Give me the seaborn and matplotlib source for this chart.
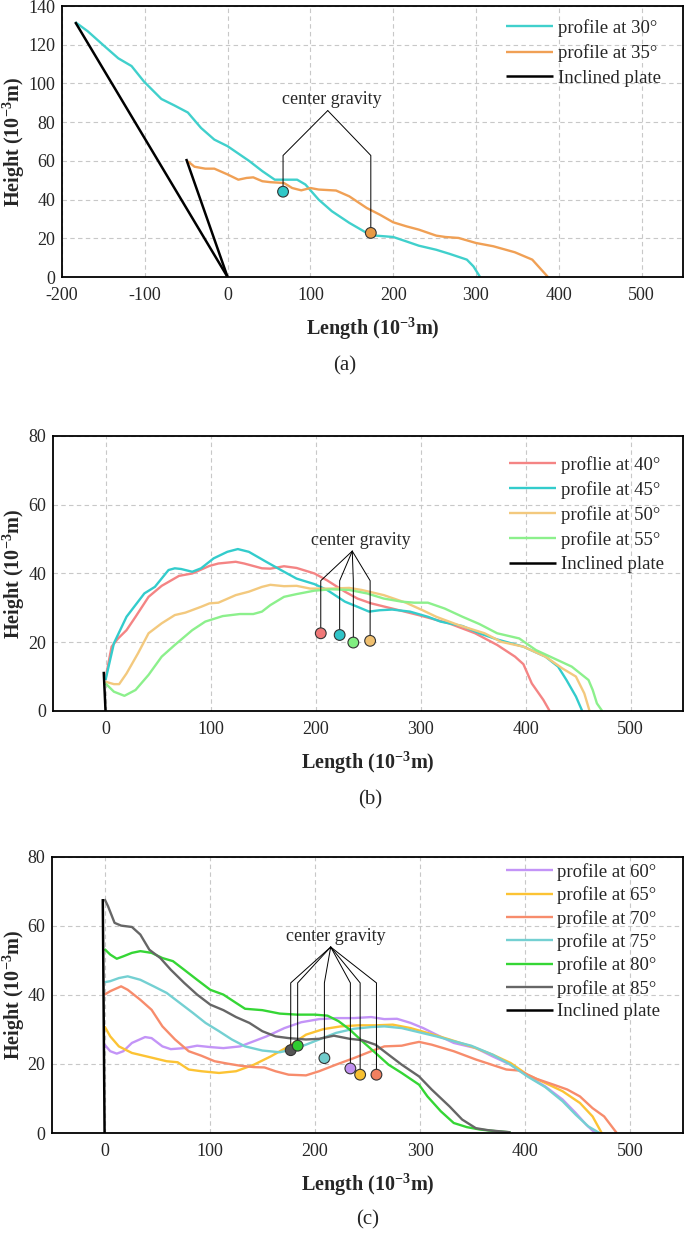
import matplotlib
import matplotlib.pyplot as plt
import numpy as np
import pandas as pd
import seaborn as sns
from matplotlib.ticker import MultipleLocator

# ---- panel (a) ----
a30_x = [-184, -169, -148, -132, -116, -101, -80, -64, -48, -32, -16, 0, 26, 42, 57, 84, 94,
         110, 126, 147, 168, 179, 200, 216, 231, 252, 268, 289, 297, 305]
a30_y = [131.7, 127, 119, 113, 109, 101, 92, 88.6, 85, 77, 71, 67.6, 60, 54.7, 50.3, 50.3, 47.8,
         40, 34, 28, 22.8, 21.4, 20.7, 18.4, 16.2, 14.1, 12, 9, 5.5, 0]
a35_x = [-48, -40, -27, -16, 0, 13, 23, 31, 42, 52, 68, 78, 89, 100, 110, 131, 147, 168, 184,
         200, 216, 231, 252, 263, 279, 300, 321, 347, 368, 379, 387]
a35_y = [59.8, 57, 56, 56, 53, 50.3, 51.2, 51.5, 49.5, 49, 48.6, 46, 44.8, 46, 45.2, 44.7, 41.7,
         35.7, 32.2, 28.3, 26.2, 24.5, 21.4, 20.7, 20.2, 17.6, 15.9, 12.8, 9, 3.8, 0]
a_plate1_x = [-184, 0]
a_plate1_y = [131.7, 0]
a_plate2_x = [-50, 0]
a_plate2_y = [61, 0]
a_cg_x = [67, 173]
a_cg_y = [44.1, 22.8]

# ---- panel (b) ----
b40_x = [0, 5.8, 12, 20, 28.6, 41, 53.5, 70, 82.6, 99, 107.5, 124, 132, 149, 157, 170, 182, 199,
         211, 228, 240, 253, 273, 298, 327, 352, 373, 390, 398, 406, 417, 423]
b40_y = [9.5, 18.7, 21.1, 23.5, 27.4, 33.2, 36.4, 39.3, 40, 42.2, 42.9, 43.4, 42.9, 41.5, 41.4,
         42.1, 41.6, 40, 38, 34.7, 32.7, 31.3, 29.8, 27.9, 25.5, 22.6, 19.2, 15.8, 13.6, 8, 3.2, 0]
b45_x = [0, 8, 20, 37, 47, 60, 66, 72, 82.6, 91, 103, 116, 126, 136.5, 153, 170, 182, 199, 211,
         228, 240, 251, 261, 273, 290, 307, 319, 340, 356, 373, 398, 419, 431, 439, 448, 454]
b45_y = [9, 19.7, 27.4, 34.2, 36.1, 41, 41.5, 41.3, 40.5, 41.5, 44.4, 46.3, 47.1, 46.3, 43.4,
         40.5, 38.5, 36.9, 35.2, 31.8, 30.3, 28.9, 29.3, 29.5, 28.9, 27.4, 26, 24.7, 22.6, 20.8,
         18.7, 15.8, 12.9, 9, 4.2, 0]
b50_x = [0, 8, 13, 20, 31, 41, 53.5, 66, 76, 91, 99, 107.5, 124, 136.5, 149, 157, 170, 182, 195,
         215, 232, 244, 265, 286, 302, 315, 336, 361, 377, 398, 419, 435, 448, 456, 461]
b50_y = [8.5, 7.8, 7.8, 10.9, 16.8, 22.6, 25.5, 27.9, 28.6, 30.3, 31.3, 31.5, 33.7, 34.7, 36.1,
         36.7, 36.3, 36.4, 35.6, 35.6, 35.8, 35.2, 33.7, 31.5, 29.3, 27.4, 25, 22.6, 20.1, 18.7,
         15.8, 12.4, 10, 5.1, 0]
b55_x = [0, 8, 18, 28.6, 41, 53.5, 66, 82.6, 95, 111.6, 128, 140.7, 149, 157, 170, 182, 199, 215,
         232, 249, 265, 282, 294, 307, 323, 340, 356, 373, 394, 410, 427, 444, 460, 464, 468, 473]
b55_y = [8, 5.6, 4.4, 6.1, 10.5, 15.8, 19.2, 23.5, 26, 27.6, 28.2, 28.2, 28.9, 30.8, 33.2, 34,
         35, 35.4, 35.2, 34.2, 32.7, 31.8, 31.5, 31.5, 29.8, 27.4, 25.3, 22.6, 21.1, 17.7, 15.3,
         12.9, 9, 6.1, 2.2, 0]
b_plate_x = [-1.7, 0]
b_plate_y = [11.4, 0]
b_cg_x = [205, 223, 236, 252]
b_cg_y = [22.6, 22.1, 19.9, 20.4]

# ---- panel (c) ----
c60_x = [0, 5.4, 11.6, 17.8, 26, 38.5, 44.7, 55, 63, 75.7, 88, 100.5, 113, 129, 142, 154, 171,
         187, 204, 220, 237, 253.5, 266, 278, 291, 303, 315.5, 332, 353, 369, 386, 402, 419,
         435.5, 448, 458, 466.5]
c60_y = [25.6, 23.7, 23, 23.7, 26.1, 27.8, 27.5, 25.1, 24.3, 24.6, 25.3, 24.9, 24.6, 25.1, 26.6,
         28, 30.4, 32.1, 33, 33.3, 33.3, 33.6, 33, 33.1, 31.9, 30.4, 28.5, 26.1, 24.6, 22.2,
         19.8, 16.6, 13.5, 9.7, 5.8, 2.4, 0]
c65_x = [0, 5.4, 13.6, 26, 42.6, 59, 69.5, 80, 92, 108.8, 125, 142, 158, 175, 191.5, 208, 224.6,
         241, 257.6, 274, 291, 307, 328, 348.6, 369, 386, 402, 419, 435.5, 452, 464, 472.7]
c65_y = [30.9, 28, 25.1, 23.2, 22, 20.8, 20.5, 18.4, 17.9, 17.4, 17.9, 19.8, 22.2, 25.1, 28.5,
         30.1, 30.9, 31.2, 31.2, 31.4, 30.4, 29, 27.1, 25.1, 22.7, 20.3, 16.9, 14.5, 12.1, 8.7,
         4.8, 0]
c70_x = [0, 5.4, 15.7, 22, 34, 44.7, 55, 67, 80, 92, 104.6, 117, 129, 142, 152, 162.5, 175,
         191.5, 204, 220, 237, 253.5, 266, 282.5, 291, 299, 311, 332, 353, 365, 382, 394, 410.7,
         427, 440, 452, 464, 475, 481, 487]
c70_y = [40.1, 41.1, 42.5, 41.5, 38.6, 35.7, 30.9, 27.1, 23.7, 22.4, 20.8, 20.1, 19.5, 19.1, 19,
         17.9, 16.9, 16.7, 17.9, 19.8, 21.7, 23.7, 25.1, 25.3, 25.9, 26.4, 25.6, 23.7, 21.3,
         20.1, 18.4, 18.1, 15.7, 14, 12.6, 10.6, 7.2, 4.8, 2.4, 0]
c75_x = [0, 5.4, 13.6, 22, 34, 46.7, 59, 71.5, 84, 96, 108.8, 121, 133.6, 150, 166.6, 179,
         191.5, 204, 220, 237, 253.5, 266, 282.5, 299, 315.5, 332, 348.6, 369, 386, 402, 419,
         435.5, 448, 460, 470.6]
c75_y = [43.7, 44, 44.9, 45.4, 44.4, 42.5, 40.6, 37.7, 34.8, 31.9, 29.5, 27.1, 25.1, 23.9, 23.4,
         24.2, 25.6, 27.1, 29, 30.2, 30.7, 30.9, 30.4, 29.2, 28, 26.6, 25.3, 22.7, 19.8, 16.4,
         13.3, 9.2, 5.3, 1.9, 0]
c80_x = [0, 5.4, 11.6, 17.8, 26, 34, 44.7, 55, 65, 75.7, 88, 100.5, 113, 125, 133.6, 150, 166.6,
         183, 199.8, 212, 222.5, 233, 245, 257.6, 270, 282.5, 299, 307, 319.7, 332, 344.5, 357,
         373, 386]
c80_y = [53.3, 51.7, 50.5, 51.2, 52.2, 52.7, 52.2, 50.7, 49.8, 47.3, 44.4, 41.5, 40.1, 37.7, 36,
         35.6, 34.6, 34.3, 34.3, 34, 32.4, 30, 26.6, 23.2, 19.8, 17.4, 14, 10.6, 6.3, 2.9, 1.7,
         1, 0.5, 0.2]
c85_x = [0, 3.3, 9.5, 15.7, 26, 34, 42.6, 53, 63, 75.7, 88, 100.5, 113, 125, 137.7, 150, 162.5,
         175, 191.5, 204, 218, 233, 245, 257.6, 270, 282.5, 299, 311, 328, 340, 353, 365, 386]
c85_y = [67.8, 65.7, 60.9, 60.1, 59.7, 57.5, 53.1, 50.7, 47.3, 43.5, 40.1, 37.2, 35.6, 33.6,
         31.9, 29.5, 28, 27.5, 27.1, 27.3, 28.2, 27.3, 26.9, 25.6, 22.7, 19.8, 16.4, 12.6, 7.7,
         3.9, 1.4, 0.8, 0.2]
c_plate_x = [-1.7, 0]
c_plate_y = [67.8, 0]
c_cg_x = [177, 183.6, 209, 233.7, 243, 258.5]
c_cg_y = [24, 25.3, 21.7, 18.7, 16.9, 16.9]

SERIF = ["Liberation Serif", "DejaVu Serif"]
FIG_W, FIG_H = 685, 1233


def _line(ax, x, y, color, label, lw=1.7):
    df = pd.DataFrame({"x": x, "y": y})
    sns.lineplot(data=df, x="x", y="y", sort=False, estimator=None,
                 color=color, lw=lw, label=label, ax=ax,
                 solid_joinstyle="round", solid_capstyle="butt")


def _draw_panel(ax, profiles, plates, cg_x, cg_y, cg_colors, text_xy, apex, kink_y,
                xlim, ylim, legend_spacing, legend_anchor):
    for x, y, color, label in profiles:
        _line(ax, x, y, color, label)
    for i, (x, y) in enumerate(plates):
        _line(ax, x, y, "black", "Inclined plate" if i == 0 else "_nolegend_", lw=1.8)

    # connectors from the "center gravity" label down to the markers
    for cx, cy in zip(cg_x, cg_y):
        ax.plot([apex[0], cx, cx], [apex[1], kink_y, cy + 1.2],
                color="black", lw=0.7, zorder=4)
    ax.text(*text_xy, "center gravity", ha="center", va="center",
            fontsize=13, family=SERIF)

    cg = pd.DataFrame({"x": cg_x, "y": cg_y, "c": cg_colors})
    sns.scatterplot(data=cg, x="x", y="y", hue="c", palette=dict(zip(cg_colors, cg_colors)),
                    s=60, edgecolor="#333333", linewidth=0.8, zorder=5, legend=False, ax=ax)

    ax.set_xlim(*xlim)
    ax.set_ylim(*ylim)
    ax.xaxis.set_major_locator(MultipleLocator(100))
    ax.xaxis.set_minor_locator(MultipleLocator(50))
    ax.yaxis.set_major_locator(MultipleLocator(20))
    ax.yaxis.set_minor_locator(MultipleLocator(10))
    ax.tick_params(which="both", direction="in", top=False, right=False, labelsize=13)
    ax.tick_params(which="major", length=5, width=1.1)
    ax.tick_params(which="minor", length=3, width=1.1)
    ax.tick_params(axis="x", which="major", pad=7)
    ax.tick_params(axis="y", which="major", pad=5)
    ax.grid(True, which="major", ls=(0, (4, 3)), color="#c8c8c8", lw=0.8)
    for sp in ax.spines.values():
        sp.set_linewidth(1.3)
        sp.set_color("black")
    ax.set_xlabel(r"Length (10$^{\mathbf{-3}}$m)", fontsize=14.5, fontweight="bold", labelpad=8)
    ax.set_ylabel(r"Height (10$^{\mathbf{-3}}$m)", fontsize=14.5, fontweight="bold")
    # keep the y label centred about 14 px from the left edge of the figure
    pos = ax.get_position()
    ax.yaxis.set_label_coords(-(pos.x0 * FIG_W - 14) / (pos.width * FIG_W), 0.5)
    ax.yaxis.label.set_va("center")

    handles, labels = ax.get_legend_handles_labels()
    order = [i for i, l in enumerate(labels) if l != "Inclined plate"] + \
            [i for i, l in enumerate(labels) if l == "Inclined plate"]
    ax.legend([handles[i] for i in order], [labels[i] for i in order],
              loc="upper right", bbox_to_anchor=legend_anchor, frameon=False,
              fontsize=13.5, handlelength=2.5, handletextpad=0.25,
              labelspacing=legend_spacing, borderaxespad=0.3)


sns.set_theme(style="white")
plt.rcParams["font.family"] = SERIF
plt.rcParams["mathtext.fontset"] = "custom"
plt.rcParams["mathtext.rm"] = "Liberation Serif"
plt.rcParams["mathtext.bf"] = "Liberation Serif:bold"
plt.rcParams["axes.unicode_minus"] = False

fig = plt.figure(figsize=(FIG_W / 100, FIG_H / 100), dpi=100)
ax_a = fig.add_axes([0.0905, 0.7753, 0.9065, 0.2198])
ax_b = fig.add_axes([0.0774, 0.4234, 0.9197, 0.2230])
ax_c = fig.add_axes([0.0759, 0.0811, 0.9212, 0.2239])

_draw_panel(
    ax_a,
    [(a30_x, a30_y, "#40d0cc", "profile at 30°"),
     (a35_x, a35_y, "#f0a055", "profile at 35°")],
    [(a_plate1_x, a_plate1_y), (a_plate2_x, a_plate2_y)],
    a_cg_x, a_cg_y, ["#30c8c8", "#e89a45"],
    text_xy=(126, 91.5), apex=(121, 86), kink_y=62.8,
    xlim=(-200, 550), ylim=(0, 140), legend_spacing=0.4, legend_anchor=(0.985, 1.0))

_draw_panel(
    ax_b,
    [(b40_x, b40_y, "#f48484", "proflie at 40°"),
     (b45_x, b45_y, "#33cccc", "profile at 45°"),
     (b50_x, b50_y, "#f3c97e", "profile at 50°"),
     (b55_x, b55_y, "#8cf08c", "profile at 55°")],
    [(b_plate_x, b_plate_y)],
    b_cg_x, b_cg_y, ["#f07878", "#30c4c8", "#80ee80", "#f0c070"],
    text_xy=(243.6, 49.7), apex=(235, 46.5), kink_y=37.9,
    xlim=(-50, 550), ylim=(0, 80), legend_spacing=0.38, legend_anchor=(0.99, 0.975))

_draw_panel(
    ax_c,
    [(c60_x, c60_y, "#c394f7", "profile at 60°"),
     (c65_x, c65_y, "#fcc334", "profile at 65°"),
     (c70_x, c70_y, "#f78c6c", "profile at 70°"),
     (c75_x, c75_y, "#74d0d2", "profile at 75°"),
     (c80_x, c80_y, "#35d635", "profile at 80°"),
     (c85_x, c85_y, "#666666", "profile at 85°")],
    [(c_plate_x, c_plate_y)],
    c_cg_x, c_cg_y, ["#555555", "#30cc30", "#70cccc", "#c090f0", "#f8c030", "#f08060"],
    text_xy=(220, 57), apex=(215, 53.9), kink_y=43.5,
    xlim=(-50, 550), ylim=(0, 80), legend_spacing=0.29, legend_anchor=(0.985, 1.025))

for label, xpix, ypix in [("(a)", 345, 366), ("(b)", 370, 800), ("(c)", 368, 1220)]:
    fig.text(xpix / FIG_W, 1 - ypix / FIG_H, label, ha="center", va="center", fontsize=15)

fig.savefig("out.png", dpi=100)
